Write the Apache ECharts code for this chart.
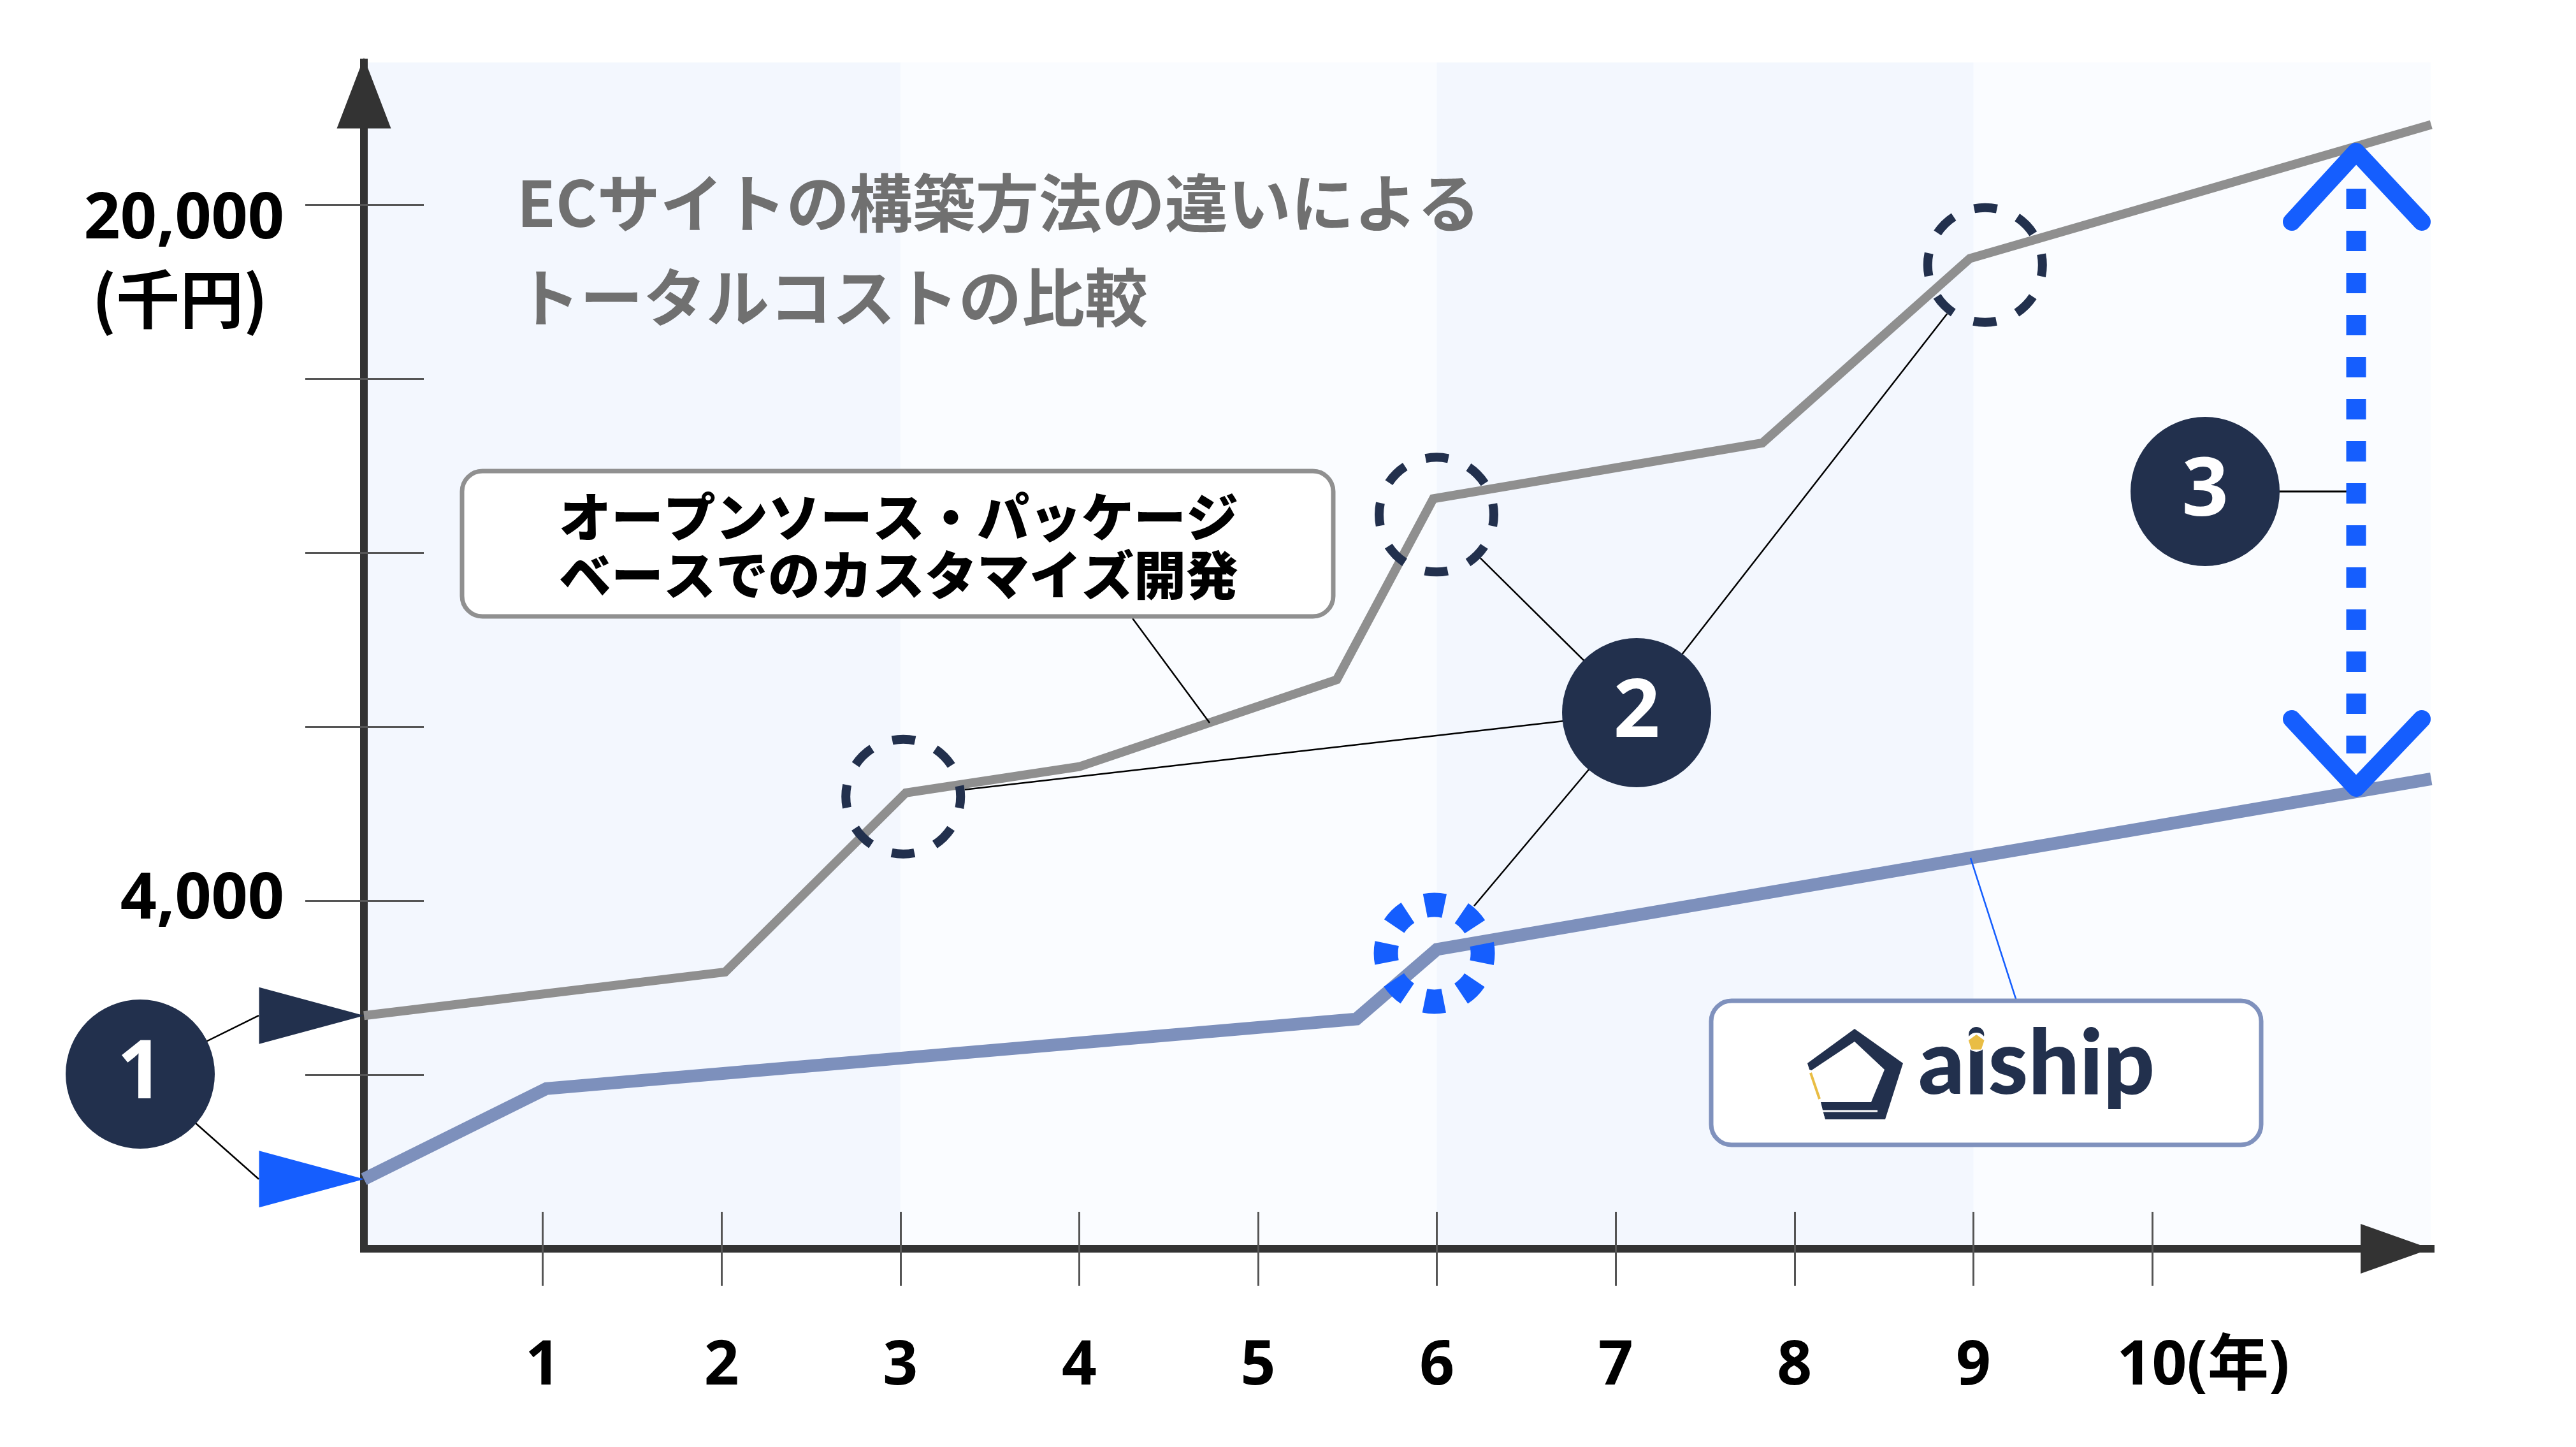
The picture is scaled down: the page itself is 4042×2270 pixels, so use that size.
<!DOCTYPE html>
<html>
<head>
<meta charset="utf-8">
<script src="https://cdn.jsdelivr.net/npm/echarts@6/dist/echarts.min.js"></script>
<style>html,body{margin:0;padding:0;background:#fff}#c{width:4042px;height:2270px}</style>
</head>
<body>
<div id="c"></div>
<script>
// ---------------- data ----------------
// x: years; y: position on the (schematic) cost axis, in tick steps
const xTickValues = [1, 2, 3, 4, 5, 6, 7, 8, 9, 10];
const xTickLabels = ['1', '2', '3', '4', '5', '6', '7', '8', '9', '10(年)'];
const yTickValues = [1, 2, 3, 4, 5, 6];
const yLabelValues = [2, 6];
const yLabelTexts = ['4,000', '20,000'];
const yUnit = '(千円)';
const packageYears = [0, 2.02, 3.03, 4.0, 5.44, 5.98, 7.82, 8.98, 11.56];
const packageCost  = [1.34, 1.59, 2.62, 2.77, 3.27, 4.31, 4.63, 5.69, 6.46];
const aishipYears  = [0, 1.02, 5.55, 6.0, 11.56];
const aishipCost   = [0.40, 0.92, 1.32, 1.72, 2.70];
const packageHighlightIdx = [2, 5, 7];
const aishipHighlightIdx = [3];
const bandRanges = [[0, 3], [6, 9]];
const titleText = 'ECサイトの構築方法の違いによる\nトータルコストの比較';
const packageName = 'オープンソース・パッケージ\nベースでのカスタマイズ開発';
const aishipName = 'aiship';
const badgeTexts = ['1', '2', '3'];

// ---------------- layout / style ----------------
const W = 4042, H = 2270;
const GRID = { left: 571, right: 228, top: 98, bottom: 311 };
const X_STEP = 280.6, Y_STEP = 273;
const X_MAX = (W - GRID.left - GRID.right) / X_STEP;
const Y_MAX = (H - GRID.top - GRID.bottom) / Y_STEP;
const NAVY = '#22304d', BLUE = '#155efe', GRAY_LINE = '#8f8f8f', BLUE_LINE = '#7d90bc';
const LATIN = '"Noto Sans", "Noto Sans CJK JP", sans-serif';
const CJK = '"Noto Sans CJK JP", "Noto Sans", sans-serif';

const chart = echarts.init(document.getElementById('c'), null, { renderer: 'canvas', width: W, height: H });

const pairs = (xs, ys) => xs.map((x, i) => [x, ys[i]]);
const tickStyle = { color: '#555555', width: 3 };

function xAxisDef(inside, main) {
  return {
    type: 'value', min: 0, max: X_MAX, position: 'bottom', z: 2,
    axisLine: main ? { show: true, onZero: false, lineStyle: { color: '#333333', width: 12, cap: 'square' },
      symbol: ['none', 'triangle'], symbolSize: [78, 110], symbolOffset: [0, -55] } : { show: false },
    axisTick: { show: true, customValues: xTickValues, inside: inside, length: 58, lineStyle: tickStyle },
    axisLabel: main ? {
      show: true, customValues: xTickValues, margin: 128,
      formatter: v => {
        const i = xTickValues.indexOf(v);
        return i === xTickValues.length - 1 ? '{last|' + xTickLabels[i] + '}' : '{n|' + xTickLabels[i] + '}';
      },
      rich: {
        n: { fontSize: 96, fontWeight: 'bold', fontFamily: LATIN, color: '#000', lineHeight: 116 },
        last: { fontSize: 96, fontWeight: 'bold', fontFamily: LATIN, color: '#000', lineHeight: 116, padding: [0, 0, 0, 160] }
      }
    } : { show: false },
    splitLine: { show: false }
  };
}
function yAxisDef(inside, main) {
  const a = {
    type: 'value', min: 0, max: Y_MAX, position: 'left', z: 2,
    axisLine: main ? { show: true, onZero: false, lineStyle: { color: '#333333', width: 12, cap: 'square' },
      symbol: ['none', 'triangle'], symbolSize: [85, 111], symbolOffset: [0, -48] } : { show: false },
    axisTick: { show: true, customValues: yTickValues, inside: inside, length: inside ? 94 : 92, lineStyle: tickStyle },
    axisLabel: main ? {
      show: true, customValues: yLabelValues, margin: 125,
      formatter: v => {
        const i = yLabelValues.indexOf(v);
        return i === yLabelValues.length - 1 ? '{hi|' + yLabelTexts[i] + '}' : '{lo|' + yLabelTexts[i] + '}';
      },
      rich: {
        lo: { fontSize: 100, fontWeight: 'bold', fontFamily: LATIN, color: '#000', lineHeight: 120 },
        hi: { fontSize: 100, fontWeight: 'bold', fontFamily: LATIN, color: '#000', lineHeight: 120, padding: [50, 0, 0, 0] }
      }
    } : { show: false },
    splitLine: { show: false }
  };
  if (main) {
    a.name = yUnit;
    a.nameLocation = 'end';
    a.nameGap = -371;
    a.nameMoveOverlap = false;
    a.nameTextStyle = { fontSize: 100, fontWeight: 'bold', fontFamily: CJK, color: '#000', align: 'right', verticalAlign: 'middle', padding: [0, 151, 0, 0] };
  }
  return a;
}

const option = {
  animation: false,
  backgroundColor: '#ffffff',
  title: {
    text: titleText, left: 811, top: 244, padding: 0, z: 6,
    textStyle: { fontSize: 99, fontWeight: 'bold', fontFamily: CJK, color: '#707070', lineHeight: 148 }
  },
  grid: { left: GRID.left, right: GRID.right, top: GRID.top, bottom: GRID.bottom, show: true,
    backgroundColor: '#fafcff', borderWidth: 0, containLabel: false, outerBoundsMode: 'none' },
  xAxis: [xAxisDef(true, true), xAxisDef(false, false)],
  yAxis: [yAxisDef(true, true), yAxisDef(false, false)],
  series: [
    {
      type: 'line', data: [], z: 1, silent: true,
      markArea: {
        silent: true, itemStyle: { color: '#f3f7fe' }, label: { show: false },
        data: bandRanges.map(r => [{ xAxis: r[0], yAxis: 0 }, { xAxis: r[1], yAxis: Y_MAX }])
      }
    },
    {
      name: 'package', type: 'line', data: pairs(packageYears, packageCost), z: 3,
      symbol: 'none', lineStyle: { color: GRAY_LINE, width: 14, join: 'miter' },
      markPoint: {
        silent: true, label: { show: false },
        data: [{ coord: [packageYears[0], packageCost[0]], symbol: 'triangle', symbolRotate: -90,
          symbolSize: [89, 165], symbolOffset: [-82, 0], itemStyle: { color: NAVY } }]
      }
    },
    {
      name: 'aiship', type: 'line', data: pairs(aishipYears, aishipCost), z: 3,
      symbol: 'none', lineStyle: { color: BLUE_LINE, width: 20, join: 'miter' },
      markPoint: {
        silent: true, label: { show: false },
        data: [{ coord: [aishipYears[0], aishipCost[0]], symbol: 'triangle', symbolRotate: -90,
          symbolSize: [89, 165], symbolOffset: [-82, 0], itemStyle: { color: BLUE } }]
      }
    },
    {
      type: 'scatter', z: 5, silent: true, clip: false,
      symbolSize: 180,
      itemStyle: { color: 'rgba(0,0,0,0)', borderColor: NAVY, borderWidth: 14, borderType: [36, 34.7], borderDashOffset: 18, opacity: 1 },
      data: packageHighlightIdx.map((i, k) => ({
        value: [packageYears[i], packageCost[i]],
        symbolOffset: [[-4, 6], [5, 25], [24, 10]][k]
      }))
    },
    {
      type: 'scatter', z: 5, silent: true, clip: false,
      symbolSize: 152,
      itemStyle: { color: 'rgba(0,0,0,0)', borderColor: BLUE, borderWidth: 38, borderType: [30, 29.7], borderDashOffset: 15, opacity: 1 },
      data: aishipHighlightIdx.map(i => ({ value: [aishipYears[i], aishipCost[i]], symbolOffset: [-4, 6] }))
    }
  ]
};
chart.setOption(option);

// ---------------- annotations ----------------
const px = (x, y) => chart.convertToPixel({ xAxisIndex: 0, yAxisIndex: 0 }, [x, y]);
const G = [];
const ln = (x1, y1, x2, y2, color, w, z) => G.push({ type: 'line', silent: true, z: z || 20,
  shape: { x1, y1, x2, y2 }, style: { stroke: color, lineWidth: w } });

const BR = 117;
const B1 = [220, 1685], B2 = [2568, 1118], B3 = [3460, 771];

// badge 1 leaders to start triangles
const gStart = px(packageYears[0], packageCost[0]);
const bStart = px(aishipYears[0], aishipCost[0]);
ln(B1[0], B1[1], gStart[0] - 165, gStart[1], '#000', 2.5);
ln(B1[0], B1[1], bStart[0] - 165, bStart[1], '#000', 2.5);

// badge 2 leaders to circled points
const ringOff = [[-4, 6], [5, 25], [24, 10]];
const ringCenters = packageHighlightIdx.map((i, k) => {
  const p = px(packageYears[i], packageCost[i]);
  return [p[0] + ringOff[k][0], p[1] + ringOff[k][1]];
});
const bp = px(aishipYears[aishipHighlightIdx[0]], aishipCost[aishipHighlightIdx[0]]);
ringCenters.push([bp[0] - 4, bp[1] + 6]);
ringCenters.forEach(c => {
  const dx = B2[0] - c[0], dy = B2[1] - c[1], d = Math.hypot(dx, dy);
  ln(c[0] + dx / d * 97, c[1] + dy / d * 97, B2[0], B2[1], '#000', 2.5);
});

// badge 3 leader
ln(B3[0], B3[1], 3684, 771, '#000', 3);

// callout leaders
ln(1777, 970, 1898, 1134, '#000', 2.5);
ln(3164, 1570, 3092, 1346, BLUE, 2.5);

// badges
[B1, B2, B3].forEach((b, i) => {
  G.push({ type: 'circle', silent: true, z: 40, shape: { cx: b[0], cy: b[1], r: BR }, style: { fill: NAVY } });
  G.push({ type: 'text', silent: true, z: 41, x: b[0], y: b[1] + 2,
    style: { text: badgeTexts[i], fill: '#fff', font: 'bold 128px ' + LATIN, align: 'center', verticalAlign: 'middle' } });
});

// package callout box
G.push({ type: 'rect', silent: true, z: 30, shape: { x: 725, y: 739, width: 1367, height: 228, r: 32 },
  style: { fill: '#fff', stroke: '#909090', lineWidth: 7 } });
G.push({ type: 'text', silent: true, z: 31, x: 1410, y: 856,
  style: { text: packageName, fill: '#000', font: '900 82px ' + CJK, align: 'center', verticalAlign: 'middle', lineHeight: 91 } });

// aiship box + logo
G.push({ type: 'rect', silent: true, z: 30, shape: { x: 2685, y: 1570, width: 863, height: 226, r: 32 },
  style: { fill: '#fff', stroke: '#7f91bd', lineWidth: 7 } });
G.push({ type: 'polygon', silent: true, z: 31, shape: { points: [[2910, 1614], [2986, 1668], [2958, 1756], [2864, 1756], [2836, 1668]] }, style: { fill: NAVY } });
G.push({ type: 'polygon', silent: true, z: 32, shape: { points: [[2910, 1634], [2957, 1678], [2936, 1729], [2856, 1729], [2841, 1680]] }, style: { fill: '#fff' } });
G.push({ type: 'polygon', silent: true, z: 32, shape: { points: [[2830, 1675], [2842, 1679], [2857, 1729], [2864, 1758], [2830, 1758]] }, style: { fill: '#fff' } });
G.push({ type: 'line', silent: true, z: 33, shape: { x1: 2841, y1: 1683, x2: 2855, y2: 1724 }, style: { stroke: '#e9bd44', lineWidth: 4 } });
G.push({ type: 'line', silent: true, z: 33, shape: { x1: 2859, y1: 1743, x2: 2946, y2: 1743 }, style: { stroke: '#fff', lineWidth: 3 } });
const LOGO_FONT = '900 142px Lato';
const LOGO_X = 3010;
G.push({ type: 'text', silent: true, z: 32, x: LOGO_X, y: 1670,
  style: { text: aishipName, fill: NAVY, font: LOGO_FONT, align: 'left', verticalAlign: 'middle' } });
(function () {
  const ctx = document.createElement('canvas').getContext('2d');
  ctx.font = LOGO_FONT;
  const dx = LOGO_X + ctx.measureText('a').width + ctx.measureText('i').width / 2;
  const cy = 1635, r = 13;
  G.push({ type: 'circle', silent: true, z: 33, shape: { cx: dx, cy: cy, r: 15 }, style: { fill: '#fff' } });
  const pts = [];
  for (let k = 0; k < 5; k++) { const a = -Math.PI / 2 + k * 2 * Math.PI / 5; pts.push([dx + r * Math.cos(a), cy + 1 + r * Math.sin(a)]); }
  G.push({ type: 'polygon', silent: true, z: 34, shape: { points: pts }, style: { fill: '#e9bd44' } });
})();

// double arrow (difference)
G.push({ type: 'line', silent: true, z: 25, shape: { x1: 3697, y1: 296, x2: 3697, y2: 1182 },
  style: { stroke: BLUE, lineWidth: 31, lineDash: [32, 34] } });
G.push({ type: 'polyline', silent: true, z: 25, shape: { points: [[3596, 348], [3697, 238], [3800, 348]] },
  style: { stroke: BLUE, lineWidth: 28, lineCap: 'round', lineJoin: 'round', fill: null } });
G.push({ type: 'polyline', silent: true, z: 25, shape: { points: [[3596, 1128], [3697, 1236], [3800, 1128]] },
  style: { stroke: BLUE, lineWidth: 28, lineCap: 'round', lineJoin: 'round', fill: null } });

chart.setOption({ graphic: { elements: G } });
</script>
</body>
</html>
